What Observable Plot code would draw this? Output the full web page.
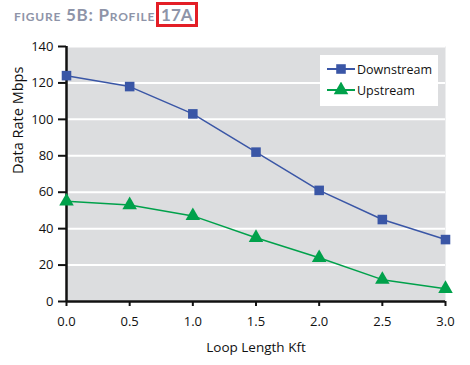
<!DOCTYPE html>
<html>
<head>
<meta charset="utf-8">
<script src="https://cdn.jsdelivr.net/npm/d3@7"></script>
<script src="https://cdn.jsdelivr.net/npm/@observablehq/plot@0.6"></script>
<style>
  body { margin: 0; background: #fff; font-family: "Open Sans", sans-serif; }
  #wrap { position: relative; width: 470px; height: 365px; }
  #title { position: absolute; left: 14px; top: 0px; height: 36px; line-height: 30px;
    font-family: Lato, sans-serif; font-weight: bold; font-size: 17px; color: #8e94a8;
    font-variant: small-caps; letter-spacing: 0.75px; white-space: nowrap; }
  #title .box { display: inline-block; border: 3.5px solid #e31e26; line-height: 19px; padding: 0 2px 0 2px; margin-left: 1px; letter-spacing: 0; }
  #chart { position: absolute; left: 0; top: 36px; }
  #legend { position: absolute; left: 320px; top: 55px; width: 118px; height: 51px; background: #fff;
    font-family: "Open Sans", sans-serif; font-size: 12.5px; color: #111; }
  #legend .row { position: absolute; left: 7px; height: 20px; display: flex; align-items: center; }
  #legend svg { margin-right: 2px; }
</style>
</head>
<body>
<div id="wrap">
  <div id="title">figure 5B: Profile<span class="box">17A</span></div>
  <div id="chart"></div>
  <div id="legend"></div>
</div>
<script>
const loopLength = [0.0, 0.5, 1.0, 1.5, 2.0, 2.5, 3.0];
const downstream = [124, 118, 103, 82, 61, 45, 34];
const upstream = [55, 53, 47, 35, 24, 12, 7];
const yTicks = [0, 20, 40, 60, 80, 100, 120, 140];
const xTicks = [0.0, 0.5, 1.0, 1.5, 2.0, 2.5, 3.0];
const seriesNames = ["Downstream", "Upstream"];
const seriesColors = ["#3a56a6", "#00a14b"];
const seriesSymbols = ["square", "triangle"];

const data = [];
loopLength.forEach((x, i) => {
  data.push({x, y: downstream[i], s: seriesNames[0]});
  data.push({x, y: upstream[i], s: seriesNames[1]});
});

const chart = Plot.plot({
  width: 470,
  height: 329,
  marginLeft: 66,
  marginRight: 25,
  marginTop: 10,
  marginBottom: 64,
  style: { fontFamily: "Open Sans, sans-serif", fontSize: "13px", color: "#111", background: "transparent" },
  x: { domain: [0, 3] },
  y: { domain: [0, 140] },
  color: { domain: seriesNames, range: seriesColors },
  symbol: { domain: seriesNames, range: seriesSymbols },
  marks: [
    Plot.frame({ fill: "#dcdddf", stroke: null }),
    Plot.gridY(yTicks, { stroke: "#fff", strokeOpacity: 1, strokeWidth: 2 }),
    Plot.axisY(yTicks, { tickSize: 8, tickPadding: 5, stroke: "#111", strokeWidth: 2, label: null, fontSize: 13 }),
    Plot.axisX(xTicks, { tickSize: 5, tickPadding: 10, stroke: "#111", strokeWidth: 2, tickFormat: d => d.toFixed(1), label: null, fontSize: 13 }),
    Plot.ruleX([0], { stroke: "#111", strokeWidth: 2.5 }),
    Plot.ruleY([0], { stroke: "#111", strokeWidth: 2.5 }),
    Plot.line(data, { x: "x", y: "y", z: "s", stroke: "s", strokeWidth: 1.5 }),
    Plot.dot(data, { x: "x", y: "y", symbol: "s", fill: "s", stroke: null, r: 5.4 }),
    Plot.text(["Data Rate Mbps"], { frameAnchor: "left", rotate: -90, dx: -48, fontSize: 14.5, fill: "#111" }),
    Plot.text(["Loop Length Kft"], { frameAnchor: "bottom", dy: 50, fontSize: 13.5, fill: "#111" })
  ]
});
document.getElementById("chart").appendChild(chart);

// Legend
const legend = document.getElementById("legend");
seriesNames.forEach((name, i) => {
  const row = document.createElement("div");
  row.className = "row";
  row.style.top = (4 + i * 21) + "px";
  const sym = d3.symbol(i === 0 ? d3.symbolSquare : d3.symbolTriangle, 5.4 * 5.4 * Math.PI)();
  row.innerHTML = `<svg width="28" height="16"><line x1="0" x2="28" y1="8" y2="8" stroke="${seriesColors[i]}" stroke-width="2"/><path transform="translate(14,8)" d="${sym}" fill="${seriesColors[i]}"/></svg><span>${name}</span>`;
  legend.appendChild(row);
});
</script>
</body>
</html>
